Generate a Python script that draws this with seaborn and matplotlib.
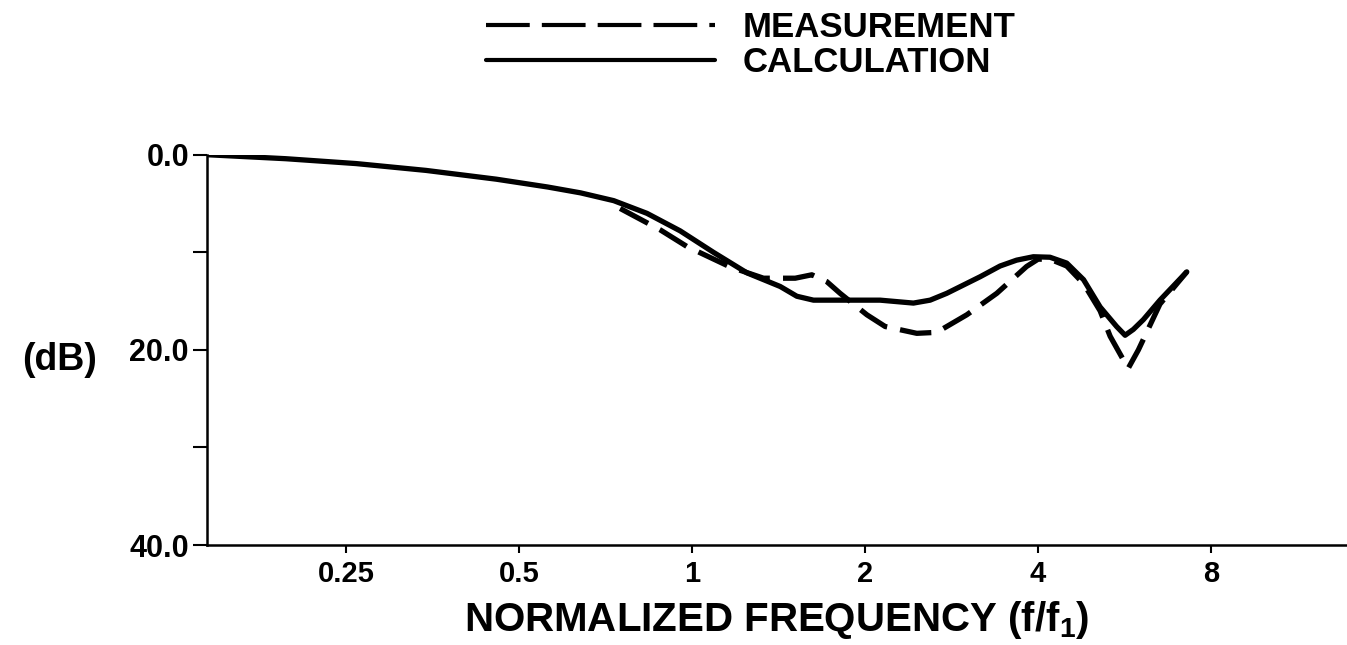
import numpy as np
import pandas as pd
import matplotlib
matplotlib.use("Agg")
import matplotlib.pyplot as plt
from matplotlib.lines import Line2D
import seaborn as sns

# calculation (solid) curve
calc_freq = [0.144, 0.196, 0.260, 0.344, 0.456, 0.560, 0.639, 0.730, 0.834, 0.953,
             1.089, 1.245, 1.423, 1.521, 1.626, 1.858, 2.124, 2.427, 2.595, 2.774,
             3.171, 3.435, 3.67, 3.925, 4.196, 4.487, 4.80, 5.13, 5.48, 5.67,
             5.86, 6.10, 6.52, 7.26]
calc_db = [0.0, 0.4, 0.9, 1.6, 2.5, 3.3, 3.9, 4.7, 6.0, 7.8,
           10.0, 12.1, 13.5, 14.5, 14.9, 14.9, 14.9, 15.2, 14.9, 14.2,
           12.5, 11.4, 10.8, 10.45, 10.5, 11.1, 12.8, 15.6, 17.6, 18.5,
           17.9, 16.9, 14.9, 12.0]

# measurement (dashed) curve
meas_freq = [0.749, 0.880, 0.979, 1.165, 1.331, 1.511, 1.615, 1.715, 1.809, 2.014,
             2.167, 2.46, 2.665, 3.006, 3.39, 3.82, 4.0, 4.196, 4.487, 4.80,
             5.13, 5.34, 5.74, 5.98, 6.52, 7.26]
meas_db = [5.5, 7.7, 9.4, 11.5, 12.65, 12.65, 12.3, 13.0, 14.2, 16.4,
           17.6, 18.3, 18.2, 16.4, 14.2, 11.45, 10.7, 10.7, 11.4, 13.2,
           16.0, 18.6, 21.9, 20.0, 15.3, 12.0]

x_ticks = [0.25, 0.5, 1, 2, 4, 8]
x_tick_labels = ["0.25", "0.5", "1", "2", "4", "8"]
y_ticks = [0, 10, 20, 30, 40]
y_tick_labels = ["0.0", "", "20.0", "", "40.0"]

calc = pd.DataFrame({"freq": calc_freq, "db": calc_db})
meas = pd.DataFrame({"freq": meas_freq, "db": meas_db})

sns.set_theme(style="ticks")
plt.rcParams["font.family"] = ["Liberation Sans", "DejaVu Sans"]
plt.rcParams["font.weight"] = "bold"
plt.rcParams["text.color"] = "black"
plt.rcParams["axes.labelcolor"] = "black"
plt.rcParams["xtick.color"] = "black"
plt.rcParams["ytick.color"] = "black"
plt.rcParams["mathtext.fontset"] = "custom"
plt.rcParams["mathtext.bf"] = "Liberation Sans:bold"
plt.rcParams["mathtext.rm"] = "Liberation Sans:bold"

fig = plt.figure(figsize=(13.47, 6.45), dpi=100)
ax = fig.add_axes([0.1537, 0.155, 0.8463, 0.605])

sns.lineplot(data=calc, x="freq", y="db", ax=ax, color="black", linewidth=3.8)
sns.lineplot(data=meas, x="freq", y="db", ax=ax, color="black", linewidth=3.8,
             linestyle=(0, (6, 2.5)))

ax.set_xscale("log", base=2)
ax.set_xlim(0.143, 13.8)
ax.set_ylim(40, 0)

ax.set_xticks(x_ticks)
ax.set_xticklabels(x_tick_labels)
ax.xaxis.set_minor_locator(matplotlib.ticker.NullLocator())
ax.set_yticks(y_ticks)
ax.set_yticklabels(y_tick_labels)

for lab in ax.get_xticklabels():
    lab.set_fontsize(21)
    lab.set_fontweight("bold")
for lab in ax.get_yticklabels():
    lab.set_fontsize(22)
    lab.set_fontweight("bold")

ax.tick_params(axis="both", direction="out", length=10, width=1.5, color="black")
ax.tick_params(axis="y", pad=3)
ax.tick_params(axis="x", length=6, pad=5)

sns.despine(ax=ax)
for side in ["left", "bottom"]:
    ax.spines[side].set_color("black")
    ax.spines[side].set_linewidth(1.8)

ax.set_xlabel(r"NORMALIZED FREQUENCY (f/f$_\mathbf{1}$)", fontsize=29,
              fontweight="bold", labelpad=8)
ax.set_ylabel("(dB)", fontsize=27, fontweight="bold", rotation=0, va="center",
              ha="left")
ax.yaxis.set_label_coords(-0.162, 0.475)

handles = [Line2D([], [], color="black", linewidth=3.0, linestyle=(0, (10.5, 2.9))),
           Line2D([], [], color="black", linewidth=3.0)]
leg = fig.legend(handles, ["MEASUREMENT", "CALCULATION"], loc="center",
                 bbox_to_anchor=(0.5576, 0.930), frameon=False, fontsize=25,
                 handlelength=6.6, handletextpad=0.8, labelspacing=0.05)
for t in leg.get_texts():
    t.set_fontweight("bold")

ax.set_facecolor("white")
fig.patch.set_facecolor("white")
fig.savefig("out.png", dpi=100)
